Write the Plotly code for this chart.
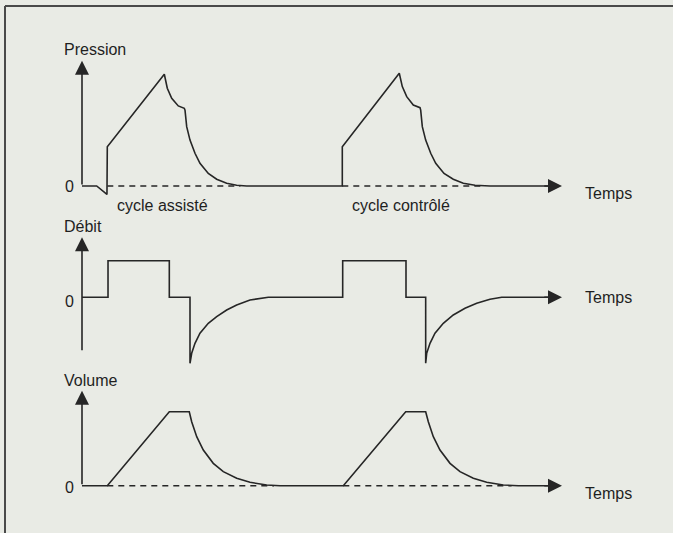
import plotly.graph_objects as go

W, H = 673, 533

# ---------------- data (arbitrary units) ----------------
# Pression (cycle assisté then cycle contrôlé)
pression_t = [0, 3.06, 5.2, 5.27, 17.15, 17.77, 18.69, 20.06, 21.31, 21.46, 21.81,
              22.5, 23.54, 24.58, 26.31, 28.06, 30.14, 32.22, 34.31,
              54.23, 54.23, 66.10, 66.73, 67.65, 69.02, 70.42, 70.56, 70.9, 71.6,
              72.65, 73.69, 75.42, 77.35, 79.44, 81.88, 85.0, 97.5]
pression = [0, 0, -3, 14, 39.9, 34.9, 31.3, 28.6, 27.75, 27.1, 21.2,
            16.4, 11.7, 8.1, 4.5, 2.4, 0.96, 0.25, 0,
            0, 14.0, 40.25, 35.5, 31.9, 28.9, 27.96, 27.1, 21.2, 16.4,
            11.7, 8.1, 4.5, 2.4, 0.96, 0.25, 0, 0]
pression_ref_t = [5.27, 33.0, None, 54.23, 83.5]
pression_ref = [0, 0, None, 0, 0]

# Débit
debit_t = [0, 5.42, 5.42, 18.19, 18.19, 22.5, 22.5, 22.85, 23.54, 24.58, 26.31,
           28.06, 30.14, 32.22, 35.0, 38.82,
           54.31, 54.31, 67.5, 67.5, 71.6, 71.6, 71.81, 72.5, 73.54, 75.27,
           77.35, 79.79, 82.23, 85.0, 87.44, 97.5]
debit = [0, 0, 40, 40, 0, 0, -72.1, -61.2, -50.3, -39.3, -28.4,
         -21.2, -13.9, -8.4, -2.95, 0,
         0, 40, 40, 0, 0, -72.1, -61.2, -50.3, -39.3, -28.4,
         -19.3, -12.0, -6.6, -2.2, 0, 0]

# Volume
volume_t = [0, 5.27, 18.19, 22.35, 22.85, 23.9, 25.27, 27.35, 29.44, 32.23, 35.0,
            38.48, 41.25,
            54.44, 67.44, 71.6, 72.15, 73.19, 74.58, 76.67, 78.75, 81.52, 84.31,
            87.77, 90.9, 97.5]
volume = [0, 0, 500, 500, 432, 331, 241, 151, 95, 50, 23, 5, 0,
          0, 500, 500, 432, 331, 241, 151, 95, 50, 23, 5, 0, 0]
volume_ref_t = [5.27, 40.0, None, 54.44, 89.5]
volume_ref = [0, 0, None, 0, 0]

axis_titles = ["Pression", "Débit", "Volume"]
time_label = "Temps"
cycle_labels = ["cycle assisté", "cycle contrôlé"]
cycle_label_t = [6.9, 55.8]
zero_label = "0"

# ---------------- layout helpers (pixel geometry) ----------------
X0_PX, PX_PER_T = 82.0, 4.8          # time origin and scale
T_TIP = 100.0                        # end of the time axis arrow


def t_of(px):
    return (px - X0_PX) / PX_PER_T


def panel(zero_px, px_per_unit, top_px, bottom_px):
    rng = [(zero_px - bottom_px) / px_per_unit, (zero_px - top_px) / px_per_unit]
    dom = [1 - bottom_px / H, 1 - top_px / H]
    return dom, rng


P1 = dict(zero=186.0, k=2.8, top=0, bottom=212)
P2 = dict(zero=297.3, k=0.915, top=212, bottom=372)
P3 = dict(zero=485.7, k=0.148, top=372, bottom=533)

def val(p, px):
    return (p["zero"] - px) / p["k"]

INK = "#262626"
TXT = "#1f1f1f"
FONT = dict(family="Liberation Sans, Arial, sans-serif", size=16, color=TXT)
LW = 1.6
ARW = dict(arrowhead=2, arrowsize=1.75, arrowwidth=1.6, arrowcolor=INK, standoff=0, startstandoff=0)

fig = go.Figure()

line = dict(color=INK, width=LW)
dash_line = dict(color=INK, width=LW, dash="6px,5px")

fig.add_trace(go.Scatter(x=pression_ref_t, y=pression_ref, mode="lines", line=dash_line,
                         xaxis="x", yaxis="y", hoverinfo="skip"))
fig.add_trace(go.Scatter(x=pression_t, y=pression, mode="lines", line=line,
                         xaxis="x", yaxis="y", name="Pression"))
fig.add_trace(go.Scatter(x=debit_t, y=debit, mode="lines", line=line,
                         xaxis="x", yaxis="y2", name="Débit"))
fig.add_trace(go.Scatter(x=volume_ref_t, y=volume_ref, mode="lines", line=dash_line,
                         xaxis="x", yaxis="y3", hoverinfo="skip"))
fig.add_trace(go.Scatter(x=volume_t, y=volume, mode="lines", line=line,
                         xaxis="x", yaxis="y3", name="Volume"))

annotations = []
panels = [(P1, "y", 60.7, None, 193.3), (P2, "y2", 237.3, 351.7, 297.3), (P3, "y3", 390.7, None, 493.0)]
title_px = {"y": 49.3, "y2": 226.7, "y3": 380.0}
zero_px = {"y": 186.7, "y2": 301.5, "y3": 487.0}
for (p, yref, tip_px, bottom_px, temps_px), title in zip(panels, axis_titles):
    tip = val(p, tip_px)
    base = 0 if bottom_px is None else val(p, bottom_px)
    # vertical axis with arrow head
    annotations.append(dict(x=0, y=tip, ax=0, ay=base, xref="x", yref=yref, axref="x", ayref=yref,
                            text="", showarrow=True, **ARW))
    # time axis arrow head
    annotations.append(dict(x=T_TIP, y=0, ax=96.0, ay=0, xref="x", yref=yref, axref="x", ayref=yref,
                            text="", showarrow=True, **ARW))
    # titles
    annotations.append(dict(x=t_of(62.0), y=val(p, title_px[yref]),
                            xref="x", yref=yref, text=title, showarrow=False,
                            xanchor="left", yanchor="middle", font=FONT))
    annotations.append(dict(x=t_of(76.0), y=val(p, zero_px[yref]),
                            xref="x", yref=yref, text=zero_label, showarrow=False,
                            xanchor="right", yanchor="middle", font=FONT))
    annotations.append(dict(x=t_of(582.5), y=val(p, temps_px), xref="x", yref=yref,
                            text=time_label, showarrow=False, xanchor="left", yanchor="middle",
                            font=FONT))

for lab, tt in zip(cycle_labels, cycle_label_t):
    annotations.append(dict(x=tt, y=val(P1, 205.5), xref="x", yref="y", text=lab,
                            showarrow=False, xanchor="left", yanchor="middle", font=FONT))

d1, r1 = panel(P1["zero"], P1["k"], P1["top"], P1["bottom"])
d2, r2 = panel(P2["zero"], P2["k"], P2["top"], P2["bottom"])
d3, r3 = panel(P3["zero"], P3["k"], P3["top"], P3["bottom"])

hidden = dict(visible=False, showgrid=False, zeroline=False, fixedrange=True)

fig.update_layout(
    width=W, height=H,
    margin=dict(l=0, r=0, t=0, b=0),
    paper_bgcolor="#e9ebe5",
    plot_bgcolor="rgba(0,0,0,0)",
    showlegend=False,
    xaxis=dict(range=[t_of(0), t_of(W)], domain=[0, 1], anchor="y3", **hidden),
    yaxis=dict(domain=d1, range=r1, anchor="x", **hidden),
    yaxis2=dict(domain=d2, range=r2, anchor="x", **hidden),
    yaxis3=dict(domain=d3, range=r3, anchor="x", **hidden),
    annotations=annotations,
    shapes=[
        dict(type="line", xref="paper", yref="paper", x0=5 / W, x1=5 / W, y0=-0.05, y1=1 - 6 / H,
             line=dict(color="#4a4a4a", width=2)),
        dict(type="line", xref="paper", yref="paper", x0=5 / W, x1=1.05, y0=1 - 6 / H, y1=1 - 6 / H,
             line=dict(color="#4a4a4a", width=2)),
    ],
)

fig.write_html(
    "out.html",
    config={"displayModeBar": False},
    post_script="document.body.style.margin='0';document.body.style.overflow='hidden';",
)
